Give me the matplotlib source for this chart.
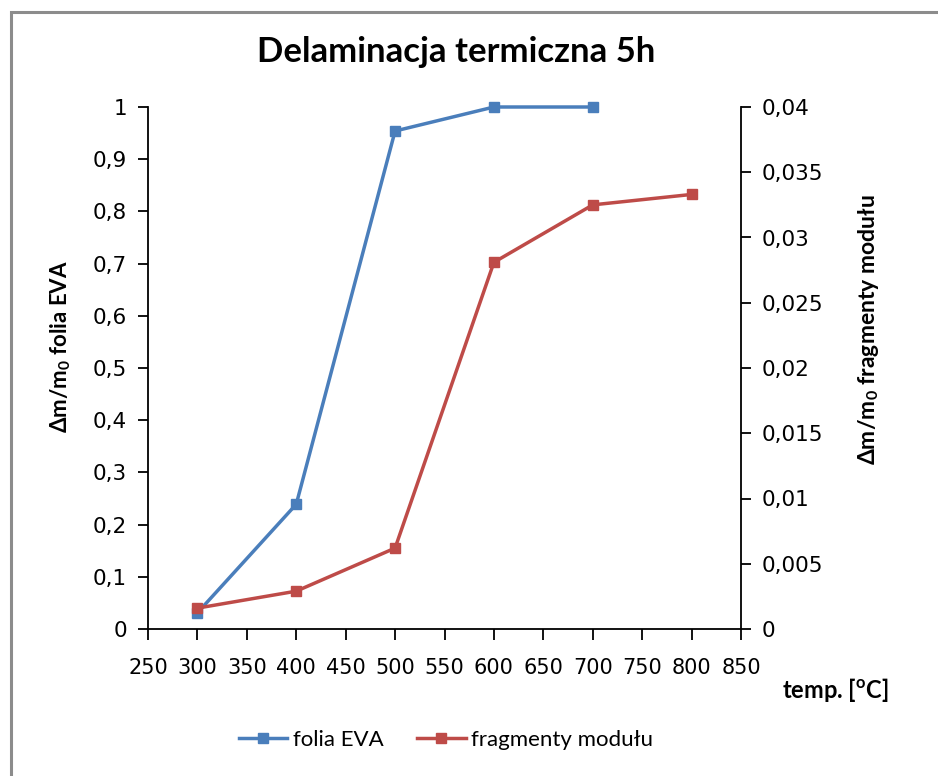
import matplotlib
matplotlib.use("Agg")
from matplotlib import pyplot as plt
from matplotlib.patches import Rectangle
from matplotlib.ticker import FuncFormatter, MultipleLocator

# data
tempEva = [300, 400, 500, 600, 700]
foliaEva = [0.031, 0.239, 0.954, 1.0, 1.0]
tempModul = [300, 400, 500, 600, 700, 800]
fragmentyModulu = [0.0016, 0.0029, 0.0062, 0.0281, 0.0325, 0.0333]

blue = "#4A7EBB"
red = "#BE4B48"

plt.rcParams['font.family'] = ['Lato', 'DejaVu Sans']
plt.rcParams['mathtext.fontset'] = 'custom'
plt.rcParams['mathtext.rm'] = 'Lato'
plt.rcParams['mathtext.bf'] = 'Lato:bold'


def commaFormat(value, pos):
    text = f"{value:.3f}".rstrip('0').rstrip('.')
    return text.replace('.', ',')


fig = plt.figure(figsize=(9.38, 7.76), dpi=100)
fig.patches.append(Rectangle((11 / 938, -0.05), 1.2, 1 - 12 / 776 + 0.05, transform=fig.transFigure,
                             fill=False, edgecolor="#8c8c8c", linewidth=2.2))

ax = fig.add_axes([148 / 938, 147 / 776, 593 / 938, 522 / 776])
ax2 = ax.twinx()

ax.plot(tempEva, foliaEva, color=blue, linewidth=2.5, marker='s', markersize=7.5, label="folia EVA",
        zorder=3, clip_on=False)
ax2.plot(tempModul, fragmentyModulu, color=red, linewidth=2.5, marker='s', markersize=7.5,
         label="fragmenty modułu", clip_on=False)

ax.set_xlim(250, 850)
ax.set_ylim(0, 1)
ax2.set_ylim(0, 0.04)
ax.xaxis.set_major_locator(MultipleLocator(50))
ax.yaxis.set_major_locator(MultipleLocator(0.1))
ax2.yaxis.set_major_locator(MultipleLocator(0.005))
ax.yaxis.set_major_formatter(FuncFormatter(commaFormat))
ax2.yaxis.set_major_formatter(FuncFormatter(commaFormat))

for a in (ax, ax2):
    a.spines['top'].set_visible(False)
    for s in a.spines.values():
        s.set_linewidth(1.3)
ax.spines['right'].set_visible(False)
ax2.spines['left'].set_visible(False)
ax2.spines['bottom'].set_visible(False)

ax.tick_params(axis='y', direction='out', length=7, width=1.3, labelsize=15.5, pad=8)
ax.tick_params(axis='x', direction='out', length=8, width=1.3, labelsize=15, pad=13)
ax2.tick_params(axis='y', direction='out', length=7, width=1.3, labelsize=15.5, pad=8)
for lbl in ax.get_yticklabels() + ax2.get_yticklabels() + ax.get_xticklabels():
    lbl.set_family(['DejaVu Sans'])

ax.set_ylabel("Δm/m$_\\mathbf{0}$ folia EVA", fontsize=16, fontweight='bold')
ax2.set_ylabel("Δm/m$_\\mathbf{0}$ fragmenty modułu", fontsize=16.5, fontweight='bold')
ax.yaxis.set_label_coords((73 - 148) / 593, (629 - 347) / 522)
ax2.yaxis.set_label_coords((856 - 148) / 593, (629 - 330) / 522)
fig.text(835 / 938, 1 - 690 / 776, "temp. [$^\\mathbf{o}$C]", fontsize=17, fontweight='bold', ha='center', va='center')

fig.text(456 / 938, 1 - 52 / 776, "Delaminacja termiczna 5h", fontsize=25, fontweight='bold', ha='center', va='center')

handles = ax.get_lines() + ax2.get_lines()
fig.legend(handles, [h.get_label() for h in handles], loc='center', bbox_to_anchor=(446 / 938, 1 - 740 / 776),
           ncol=2, frameon=False, fontsize=16, handlelength=2.2, columnspacing=1.5, handletextpad=0.25)

fig.savefig("out.png", dpi=100)
